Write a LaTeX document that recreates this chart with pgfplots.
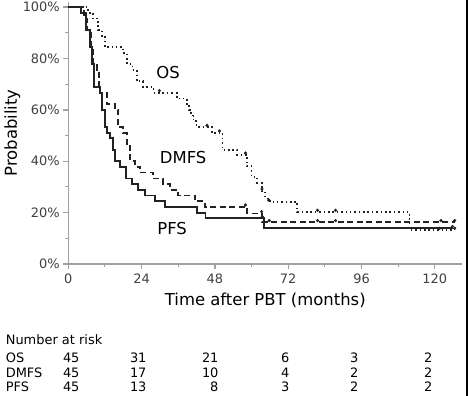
\documentclass[border=0pt]{standalone}
\usepackage{pgfplots}
\pgfplotsset{compat=1.18}
\usepackage{fontspec}
\setmainfont{DejaVu Sans}
\definecolor{axgray}{HTML}{A0A0A0}
\definecolor{txtgray}{HTML}{404040}
\definecolor{curve}{HTML}{222222}
\begin{document}
\begin{tikzpicture}
\useasboundingbox (-68.3bp,-132bp) rectangle (399.7bp,264bp);
\begin{axis}[
  at={(0,0)}, anchor=south west,
  scale only axis, width=394bp, height=262bp,
  xmin=0, xmax=129, ymin=0, ymax=102,
  axis x line*=bottom, axis y line*=left,
  axis line style={axgray, line width=1.5pt, -},
  xtick={0,24,48,72,96,120}, minor xtick={12,36,60,84,108},
  ytick={0,20,40,60,80,100}, minor ytick={10,30,50,70,90},
  yticklabel={\pgfmathprintnumber{\tick}\%},
  tick align=outside,
  major tick length=5bp, minor tick length=3bp,
  tick style={axgray, line width=1.3pt},
  minor tick style={axgray, line width=1.1pt},
  /pgf/number format/assume math mode=true,
  ticklabel style={font=\fontsize{13}{15}\selectfont, text=txtgray},
  xticklabel style={yshift=-1bp},
  xlabel={Time after PBT (months)},
  ylabel={Probability},
  xlabel style={at={(rel axis cs:0.5,0)}, anchor=center, yshift=-36bp, font=\fontsize{16.5}{19}\selectfont},
  ylabel style={at={(rel axis cs:0,0.5)}, anchor=center, yshift=56bp, font=\fontsize{16.5}{19}\selectfont},
  clip=false,
]
% OS (dotted)
\addplot[const plot, curve, line width=1.8pt, dash pattern=on 1.6pt off 2.8pt] coordinates {
(0,100) (6.5,97.8) (8,95.6) (9.8,91.1) (11,88.9) (12,84.4) (18,82.2) (19.2,77.8)
(21,75.6) (22.4,71.1) (24.5,68.9) (27.9,66.7) (35.5,64.4) (38.8,62.2) (39.6,60)
(40.3,57.8) (41,55.6) (42,53.3) (47,51.1) (50.5,44.4) (55.2,42.5) (58.5,38)
(60,34) (61.8,31.5) (63.3,28.5) (64.5,25.5) (66,24.2) (75,20.2) (111.7,13.2) (126.5,13.2)};
% DMFS (dashed)
\addplot[const plot, curve, line width=1.8pt, dash pattern=on 6bp off 3.5bp] coordinates {
(0,100) (5.2,95.6) (6.2,91.1) (7.5,84.4) (8.2,77.8) (9.3,75.6) (10,68.9) (10.4,66.7)
(12.6,62.2) (15.3,60) (16.4,53.3) (18,51.1) (19.1,46.7) (20.2,40) (21.9,37.8)
(23.5,35.6) (27.8,33.3) (31,31.1) (33.3,28.9) (36,26.7) (41.5,24.4) (44.8,22.2)
(58.5,19.7) (63.5,16.2) (126.5,16.2)};
% PFS (solid)
\addplot[const plot, curve, line width=1.8pt] coordinates {
(0,100) (4.2,97.8) (5.8,91.1) (7,84.4) (7.7,77.8) (8.5,68.9) (10.4,66.7) (11,60)
(12,53.3) (12.8,51.1) (13.7,48.9) (14.6,44.4) (15.3,40) (17,37.8) (19,33.3)
(20.8,31.1) (22.9,28.9) (25,26.7) (28.4,24.4) (31.7,22.2) (42.2,20) (44.9,17.8)
(64.2,13.9) (125.8,13.9)};
% censor marks
\addplot[only marks, mark=*, mark size=1.4bp, curve] coordinates {
(29.8,67.5) (45.4,54) (49.5,51.8) (58,43.2) (63.4,29.2) (65.6,24.9) (81.6,20.9)
(87.5,20.9) (121.6,13.9) (126.5,13.9)
(58,23) (63.3,20.4) (65.8,16.9) (81.6,16.9) (87.5,16.9) (122,16.9) (126.5,16.9)
(63.5,18.5) (125.8,14.6)};
\node[font=\fontsize{16.5}{19}\selectfont] at (axis cs:32.7,74.7) {OS};
\node[font=\fontsize{16.5}{19}\selectfont] at (axis cs:37.6,41.6) {DMFS};
\node[font=\fontsize{16.5}{19}\selectfont] at (axis cs:34,14) {PFS};
\end{axis}
\begin{scope}[font=\fontsize{13}{15}\selectfont]
\node[anchor=west] at (-66bp,-76bp) {Number at risk};
\node[anchor=west] at (-66bp,-94bp) {OS};
\node[anchor=west] at (-66bp,-109bp) {DMFS};
\node[anchor=west] at (-66bp,-123bp) {PFS};
\foreach \x/\a/\b/\c in {14.7/45/45/45, 81.7/31/17/13, 153.7/21/10/8, 224.7/6/4/3, 293.7/3/2/2, 367.7/2/2/2}{
  \node[anchor=east] at (\x bp,-94bp) {\a};
  \node[anchor=east] at (\x bp,-109bp) {\b};
  \node[anchor=east] at (\x bp,-123bp) {\c};
}
\end{scope}
\fill[black] (397.2bp,-132bp) rectangle (399.7bp,264bp);
\end{tikzpicture}
\end{document}
